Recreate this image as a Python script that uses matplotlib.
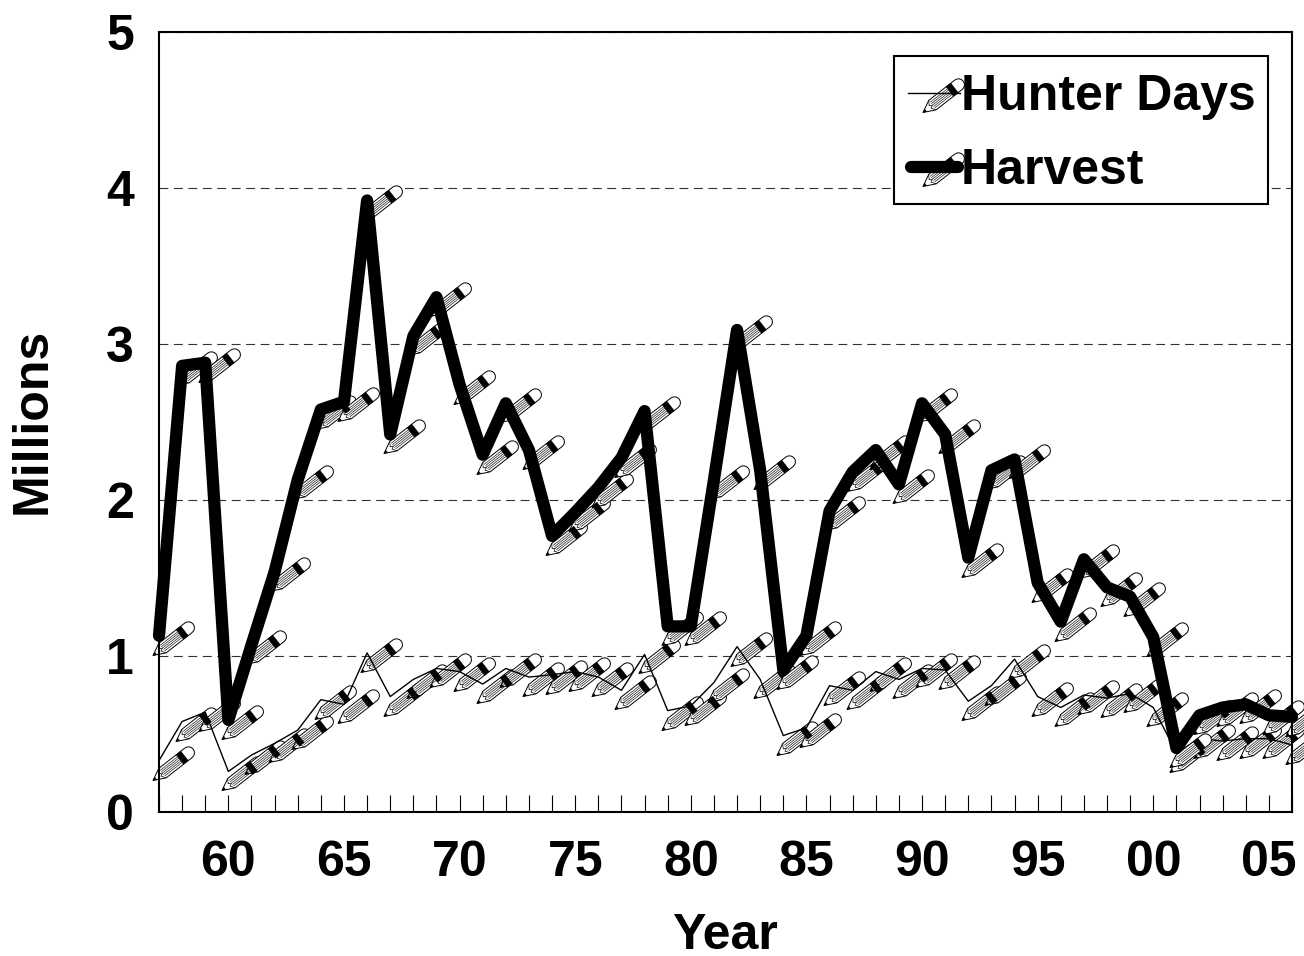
import numpy as np
import matplotlib
matplotlib.use('Agg')
import matplotlib.pyplot as plt
from matplotlib.path import Path
from matplotlib.patches import Rectangle

plt.rcParams['font.family'] = ['Liberation Sans', 'DejaVu Sans']
plt.rcParams['font.weight'] = 'bold'

years = list(range(1957, 2007))
harvest = [1.13, 2.86, 2.88, 0.59, 1.07, 1.54, 2.13, 2.58, 2.63, 3.92,
           2.42, 3.05, 3.30, 2.74, 2.29, 2.62, 2.32, 1.77, 1.92, 2.08,
           2.27, 2.57, 1.19, 1.19, 2.13, 3.09, 2.19, 0.91, 1.13, 1.93,
           2.18, 2.32, 2.10, 2.62, 2.42, 1.63, 2.19, 2.26, 1.47, 1.22,
           1.62, 1.44, 1.38, 1.12, 0.41, 0.62, 0.67, 0.69, 0.62, 0.61]
hunter_days = [0.33, 0.58, 0.64, 0.26, 0.365, 0.44, 0.525, 0.72, 0.69, 1.02,
               0.74, 0.85, 0.92, 0.90, 0.82, 0.92, 0.865, 0.88, 0.90, 0.865,
               0.78, 1.01, 0.65, 0.68, 0.83, 1.06, 0.85, 0.49, 0.54, 0.81,
               0.78, 0.90, 0.85, 0.92, 0.91, 0.71, 0.81, 0.98, 0.74, 0.67,
               0.75, 0.73, 0.76, 0.67, 0.38, 0.47, 0.455, 0.47, 0.47, 0.43]
x_label_years = [1960, 1965, 1970, 1975, 1980, 1985, 1990, 1995, 2000, 2005]
x_labels = ['60', '65', '70', '75', '80', '85', '90', '95', '00', '05']
y_ticks = [0, 1, 2, 3, 4, 5]

W, H = 1304, 956
PX = 72 / 100  # points per pixel at dpi 100

# pencil marker, in pixels around its anchor; tip sits down-left of the point
R = 60.0
ANGLE = np.radians(38)
TIP = (-6.5, -19.0)


def to_marker(pts):
    pts = np.array(pts, dtype=float)
    c, s = np.cos(ANGLE), np.sin(ANGLE)
    return np.column_stack([pts[:, 0] * c - pts[:, 1] * s + TIP[0],
                            pts[:, 0] * s + pts[:, 1] * c + TIP[1]])


def make_path(polys, closed=True):
    # the far MOVETO keeps every layer at the same marker scale
    verts = [(R, R), (-R, -R)]
    codes = [Path.MOVETO, Path.MOVETO]
    for p in polys:
        p = to_marker(p)
        verts.extend(map(tuple, p))
        codes.extend([Path.MOVETO] + [Path.LINETO] * (len(p) - 1))
        if closed:
            verts.append(tuple(p[0]))
            codes.append(Path.CLOSEPOLY)
    return Path(verts, codes)


hw = 6.0
arc = [(45 + hw * np.cos(a), hw * np.sin(a)) for a in np.linspace(-np.pi / 2, np.pi / 2, 9)]
outline = make_path([[(0, 0), (12, -hw)] + arc + [(12, hw)]])
cone = make_path([[(12, -hw), (9, -1.5), (12, 0), (9, 1.5), (12, hw)]], closed=False)
hatch = make_path([[(12, t), (34, t)] for t in (-3.6, -1.8, 0, 1.8, 3.6)], closed=False)
band = make_path([[(34, -hw), (40, -hw), (40, hw), (34, hw)]])
tip_fill = make_path([[(0, 0), (3.5, -1.6), (3.5, 1.6)]])


def draw_pencils(ax, x, y, z, **kw):
    ms = 2 * R * PX
    base = dict(ls='none', ms=ms, clip_on=False, zorder=z, **kw)
    ax.plot(x, y, marker=outline, mfc='white', mec='black', mew=0.7, **base)
    ax.plot(x, y, marker=cone, mfc='none', mec='black', mew=0.5, **base)
    ax.plot(x, y, marker=hatch, mfc='none', mec='#222222', mew=0.5, **base)
    ax.plot(x, y, marker=band, mfc='black', mec='black', mew=0.3, **base)
    ax.plot(x, y, marker=tip_fill, mfc='black', mec='black', mew=0.2, **base)


fig = plt.figure(figsize=(W / 100, H / 100), dpi=100)
ax = fig.add_axes([159 / W, 1 - 812 / H, (1292 - 159) / W, (812 - 32) / H])

ax.set_xlim(1957, 2006)
ax.set_ylim(0, 5)
ax.set_yticks(y_ticks)
ax.set_xticks(years, minor=True)
ax.set_xticks(x_label_years)
ax.set_xticklabels(x_labels)
ax.tick_params(axis='x', which='both', direction='in', length=12.5, width=0.8, top=False)
ax.tick_params(axis='x', which='major', labelsize=36, pad=20)
ax.tick_params(axis='y', length=0, labelsize=36, pad=18)
ax.yaxis.grid(True, color='#333333', lw=0.8, ls=(0, (8, 5)))
ax.set_axisbelow(True)
for sp in ax.spines.values():
    sp.set_linewidth(1.5)
    sp.set_zorder(6)

draw_pencils(ax, years, hunter_days, 2)
ax.plot(years, hunter_days, color='black', lw=1.0, zorder=3, clip_on=False)
draw_pencils(ax, years, harvest, 4)
ax.plot(years, harvest, color='black', lw=8.8, zorder=5, clip_on=False,
        solid_capstyle='round', solid_joinstyle='round')

fig.text(725 / W, 1 - 936 / H, 'Year', fontsize=36, ha='center', va='center')
fig.text(33 / W, 1 - 421 / H, 'Millions', fontsize=36, rotation=90, ha='center', va='center')


# legend box, laid out in pixels so the pencil handles can be used
def fx(px):
    return px / W


def fy(py):
    return 1 - py / H


fig.add_artist(Rectangle((fx(894), fy(204)), (1268 - 894) / W, (204 - 56) / H, transform=fig.transFigure,
                         fc='white', ec='black', lw=1.5, zorder=10))
lax = fig.add_axes([0, 0, 1, 1], facecolor='none', zorder=11)
lax.set_xlim(0, W)
lax.set_ylim(H, 0)
lax.axis('off')
draw_pencils(lax, [929], [93], 2)
lax.plot([908, 960], [93, 93], color='black', lw=1.0, zorder=3)
draw_pencils(lax, [929], [167], 4)
lax.plot([911, 958], [167, 167], color='black', lw=8.8, zorder=5, solid_capstyle='round')
lax.text(961, 97, 'Hunter Days', fontsize=36, va='center', ha='left')
lax.text(961, 171, 'Harvest', fontsize=36, va='center', ha='left')

fig.savefig('out.png', dpi=100)
